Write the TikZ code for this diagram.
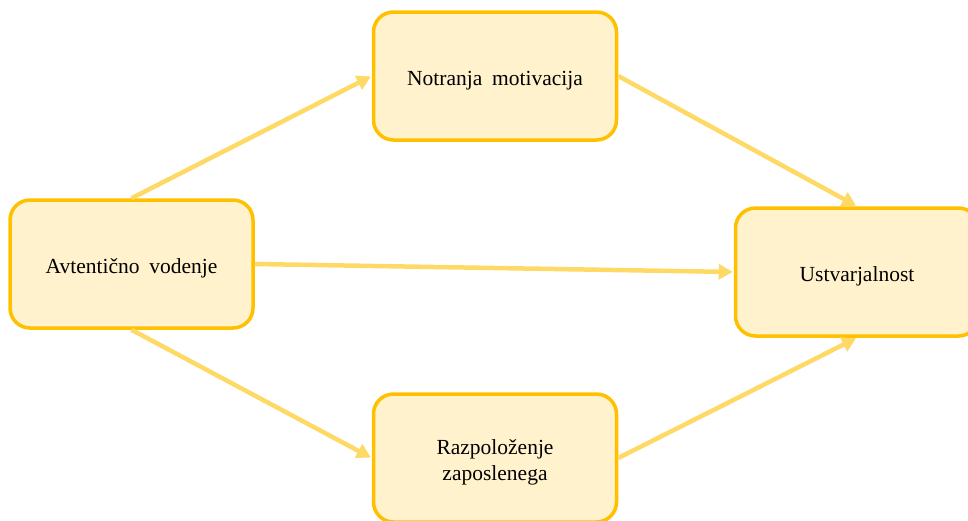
\documentclass[tikz,border=0pt]{standalone}
\usepackage{fontspec}
\setmainfont{Liberation Serif}[WordSpace=1.8]
\usetikzlibrary{arrows.meta}
\definecolor{boxline}{HTML}{FFC000}
\definecolor{boxfill}{HTML}{FFF2CC}
\definecolor{arrowcol}{HTML}{FFD966}
\begin{document}
\begin{tikzpicture}[x=1pt,y=-1pt,
  conceptbox/.style={draw=boxline, fill=boxfill, line width=3.5pt, rounded corners=20pt,
    minimum width=243pt, minimum height=128pt, inner sep=0pt, align=center,
    font=\fontsize{21.5}{26}\selectfont},
  oneline/.style={text height=20pt, text depth=1pt},
  link/.style={draw=arrowcol, line width=4.5pt, -{Triangle[length=14pt,width=15pt]}, shorten >=1pt}]
\useasboundingbox (0,0) rectangle (968,520);
\node[conceptbox, oneline] (A) at (131.5,264) {Avtentično vodenje};
\node[conceptbox, oneline] (N) at (495,76) {Notranja motivacija};
\node[conceptbox, oneline] (U) at (857,272) {Ustvarjalnost};
\node[conceptbox] (R) at (495,458) {\raisebox{-4pt}[\height][\depth]{\begin{tabular}{@{}c@{}}Razpoloženje\\zaposlenega\end{tabular}}};
\draw[link] (A.north) -- (N.west);
\draw[link] (A.east) -- (U.west);
\draw[link] (A.south) -- (R.west);
\draw[link] (N.east) -- (U.north);
\draw[link] (R.east) -- (U.south);
\end{tikzpicture}
\end{document}
